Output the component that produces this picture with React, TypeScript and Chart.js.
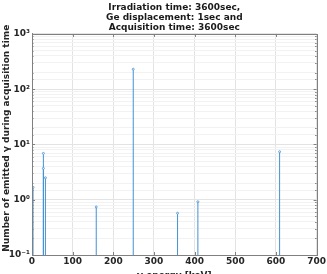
import React, { useEffect, useRef } from "react";
import { Chart, registerables } from "chart.js";

Chart.register(...registerables);

const titleLines = [
  "Irradiation time: 3600sec,",
  "Ge displacement: 1sec and",
  "Acquisition time: 3600sec",
];
const xTitle = "γ energy [keV]";
const yTitle = "    Number of emitted γ during acquisition time";

// stem lines: energy (keV) and number of emitted gammas
const energies = [2.5, 28, 28, 33, 158, 249, 358, 408, 609];
const counts = [1.68, 6.9, 3.7, 2.5, 0.74, 230, 0.57, 0.92, 7.4];

const xTicks = [0, 100, 200, 300, 400, 500, 600, 700];
const yMajor = [0.1, 1, 10, 100, 1000];
const yMajorLabels = ["10⁻¹", "10⁰", "10¹", "10²", "10³"];

const FONT = "DejaVu Sans";
const isMajor = (v: number) => Math.abs(Math.log10(v) - Math.round(Math.log10(v))) < 1e-6;

const boxPlugin = {
  id: "boxPlugin",
  afterDraw(chart: any) {
    const { ctx, chartArea: a, scales } = chart;
    ctx.save();
    ctx.strokeStyle = "#808080";
    ctx.lineWidth = 1;
    ctx.beginPath();
    for (const t of scales.x.ticks) {
      const px = Math.round(scales.x.getPixelForValue(t.value)) + 0.5;
      ctx.moveTo(px, a.bottom);
      ctx.lineTo(px, a.bottom - 3);
      ctx.moveTo(px, a.top);
      ctx.lineTo(px, a.top + 3);
    }
    for (const t of scales.y.ticks) {
      const py = Math.round(scales.y.getPixelForValue(t.value)) + 0.5;
      const len = isMajor(t.value) ? 3 : 1.5;
      ctx.moveTo(a.left, py);
      ctx.lineTo(a.left + len, py);
      ctx.moveTo(a.right, py);
      ctx.lineTo(a.right - len, py);
    }
    ctx.stroke();
    ctx.strokeRect(Math.round(a.left) + 0.5, Math.round(a.top) + 0.5, Math.round(a.right - a.left), Math.round(a.bottom - a.top));
    ctx.restore();
  },
};

export default function App() {
  const ref = useRef<HTMLCanvasElement>(null);
  useEffect(() => {
    if (!ref.current) return;
    Chart.defaults.font.family = FONT;
    const stemData: any[] = [];
    energies.forEach((e, i) => {
      stemData.push({ x: e, y: 0.1 });
      stemData.push({ x: e, y: counts[i] });
      stemData.push({ x: e, y: null });
    });
    const chart = new Chart(ref.current, {
      type: "line",
      data: {
        datasets: [
          {
            data: stemData,
            borderColor: "#4292d4",
            backgroundColor: "#4292d4",
            borderWidth: 1,
            spanGaps: false,
            pointRadius: (c: any) => (c.dataIndex % 3 === 1 ? 1 : 0),
            pointBorderWidth: 0.8,
            pointBorderColor: "#4292d4",
            pointBackgroundColor: "#ffffff",
          },
        ],
      },
      options: {
        animation: false,
        responsive: false,
        devicePixelRatio: 1,
        layout: { padding: { left: 0, right: 10, top: 0, bottom: 0 } },
        plugins: {
          legend: { display: false },
          tooltip: { enabled: false },
          title: {
            display: true,
            text: titleLines,
            fullSize: false,
            color: "#1a1a1a",
            font: { size: 9, weight: "bold", family: FONT, lineHeight: 1.11 },
            padding: { top: 3, bottom: 1 },
          },
        },
        scales: {
          x: {
            type: "linear",
            min: 0,
            max: 700,
            afterBuildTicks: (s: any) => {
              s.ticks = xTicks.map((v) => ({ value: v }));
            },
            afterFit: (s: any) => {
              s.height = 19;
            },
            ticks: {
              color: "#262626",
              font: { size: 9, weight: "bold", family: FONT },
              padding: 1,
              maxRotation: 0,
            },
            grid: { color: "#e3e3e3", drawTicks: false },
            border: { color: "#808080" },
            title: {
              display: true,
              text: xTitle,
              color: "#262626",
              font: { size: 9, weight: "bold", family: FONT },
              padding: { top: 0, bottom: -7 },
            },
          },
          y: {
            type: "logarithmic",
            min: 0.1,
            max: 1000,
            afterFit: (s: any) => {
              s.width = 32;
            },
            ticks: {
              autoSkip: false,
              color: "#262626",
              font: { size: 9, weight: "bold", family: FONT },
              padding: 2,
              callback: (v: any) => {
                const idx = yMajor.findIndex((m) => Math.abs(m - Number(v)) < 1e-9 * m);
                return idx >= 0 ? yMajorLabels[idx] : "";
              },
            },
            grid: {
              drawTicks: false,
              color: (c: any) => (c.tick && isMajor(c.tick.value) ? "#e3e3e3" : "#f2f2f2"),
            },
            border: { color: "#808080" },
            title: {
              display: true,
              text: yTitle,
              color: "#262626",
              font: { size: 9, weight: "bold", family: FONT },
              padding: { top: 1, bottom: 0 },
            },
          },
        },
      },
      plugins: [boxPlugin],
    } as any);
    return () => chart.destroy();
  }, []);
  return (
    <div style={{ position: "absolute", left: 0, top: 0, width: 327, height: 274, background: "#fff" }}>
      <canvas ref={ref} width={327} height={274} />
    </div>
  );
}
